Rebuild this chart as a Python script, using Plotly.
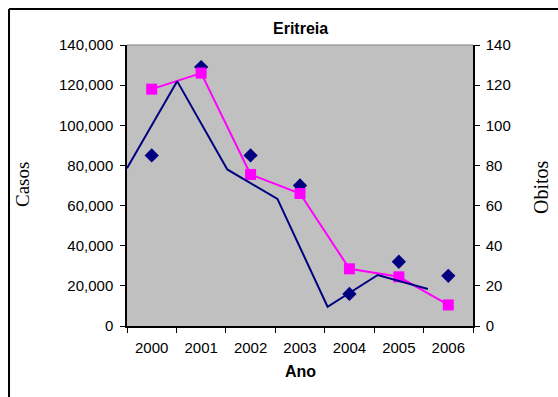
import plotly.graph_objects as go

# Dados por ano
anos = ["2000", "2001", "2002", "2003", "2004", "2005", "2006"]
casos = [85000, 129000, 85000, 70000, 16000, 32000, 25000]
obitos = [118, 126, 75.5, 66, 28.5, 24.5, 10.5]
linha_pos = [0, 1, 2, 3, 4, 5, 6]
linha_casos = [78600, 122000, 78000, 63300, 9600, 25400, 18400]

y_ticks_casos = [0, 20000, 40000, 60000, 80000, 100000, 120000, 140000]
y_ticks_obitos = [0, 20, 40, 60, 80, 100, 120, 140]

NAVY = "#000080"
MAGENTA = "#FF00FF"
FONT = "Liberation Sans, Arial, sans-serif"
SERIF = "Liberation Serif, Times New Roman, serif"

fig = go.Figure()

# Linha contínua (eixo x secundário, vértices entre as categorias)
fig.add_trace(go.Scatter(
    x=linha_pos, y=linha_casos, mode="lines",
    line=dict(color=NAVY, width=2), xaxis="x2", yaxis="y",
    showlegend=False, hoverinfo="skip",
))

# Casos: losangos
fig.add_trace(go.Scatter(
    x=anos, y=casos, mode="markers",
    marker=dict(symbol="diamond", size=11, color=NAVY, line=dict(width=0)),
    xaxis="x", yaxis="y", showlegend=False,
))

# Óbitos: linha com quadrados
fig.add_trace(go.Scatter(
    x=anos, y=obitos, mode="lines+markers",
    line=dict(color=MAGENTA, width=2),
    marker=dict(symbol="square", size=11, color=MAGENTA, line=dict(width=0)),
    xaxis="x", yaxis="y2", showlegend=False,
))

axis_font = dict(family=FONT, size=15, color="black")

fig.update_layout(
    width=558, height=397,
    margin=dict(l=127, r=85, t=45, b=71),
    paper_bgcolor="white",
    plot_bgcolor="#C0C0C0",
    showlegend=False,
    xaxis=dict(
        type="category", categoryorder="array", categoryarray=anos,
        range=[-0.5, 6.5], tickson="boundaries",
        ticks="outside", ticklen=5, tickwidth=1, tickcolor="black",
        ticklabelstandoff=7,
        showline=True, linecolor="black", linewidth=1.5,
        showgrid=False, zeroline=False, tickfont=axis_font,
        fixedrange=True,
    ),
    xaxis2=dict(
        overlaying="x", range=[0, 6.9], visible=False, fixedrange=True,
    ),
    yaxis=dict(
        range=[0, 140000], tickvals=y_ticks_casos, tickformat=",d",
        ticks="outside", ticklen=5, tickwidth=1, tickcolor="black",
        ticklabelstandoff=4,
        showline=True, linecolor="black", linewidth=1.5,
        showgrid=False, zeroline=False, tickfont=axis_font,
        fixedrange=True,
    ),
    yaxis2=dict(
        overlaying="y", side="right", range=[0, 140], tickvals=y_ticks_obitos,
        ticks="outside", ticklen=5, tickwidth=1, tickcolor="black",
        ticklabelstandoff=3,
        showline=True, linecolor="black", linewidth=1.5,
        showgrid=False, zeroline=False, tickfont=axis_font,
        fixedrange=True,
    ),
    shapes=[
        # borda superior da área de plotagem
        dict(type="line", xref="paper", yref="paper", x0=0, x1=1, y0=1, y1=1,
             line=dict(color="#808080", width=1)),
        # moldura do gráfico (esquerda e topo)
        dict(type="line", xref="paper", yref="paper",
             x0=-0.341, x1=-0.341, y0=1.128, y1=-0.4,
             line=dict(color="black", width=2)),
        dict(type="line", xref="paper", yref="paper",
             x0=-0.341, x1=1.4, y0=1.128, y1=1.128,
             line=dict(color="black", width=2)),
    ],
    annotations=[
        dict(text="<b>Eritreia</b>", xref="paper", yref="paper",
             x=0.5, y=(326 - 28) / 281, xanchor="center", yanchor="middle",
             showarrow=False, font=dict(family=FONT, size=16, color="black")),
        dict(text="<b>Ano</b>", xref="paper", yref="paper",
             x=0.5, y=(326 - 371) / 281, xanchor="center", yanchor="middle",
             showarrow=False, font=dict(family=FONT, size=16, color="black")),
        dict(text="Casos", xref="paper", yref="paper",
             x=(22 - 127) / 346, y=(326 - 185) / 281, xanchor="center",
             yanchor="middle", textangle=-90, showarrow=False,
             font=dict(family=SERIF, size=19, color="black")),
        dict(text="Obitos", xref="paper", yref="paper",
             x=(541 - 127) / 346, y=(326 - 187) / 281, xanchor="center",
             yanchor="middle", textangle=-90, showarrow=False,
             font=dict(family=SERIF, size=20, color="black")),
    ],
)

fig.write_html("out.html")
